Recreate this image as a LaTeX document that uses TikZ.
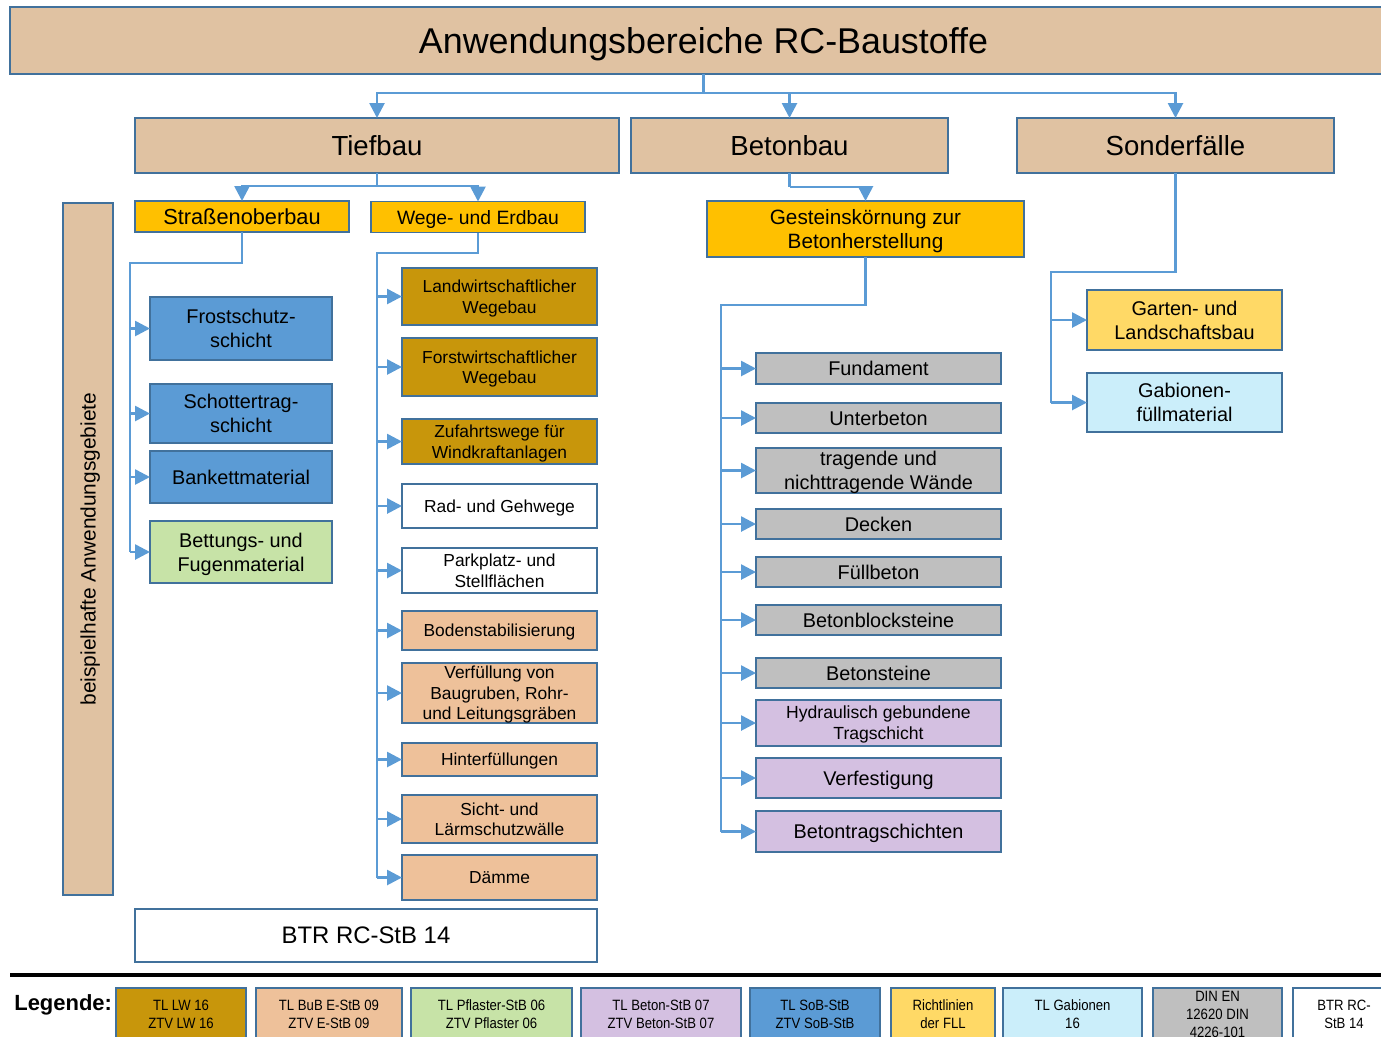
\documentclass[tikz,border=0pt]{standalone}
\usepackage{fontspec}
\setmainfont{Liberation Sans}
\newfontfamily\narrowfont[FakeStretch=0.88]{Liberation Sans}
\usetikzlibrary{arrows.meta, positioning}
\definecolor{TanBox}{HTML}{E0C2A2}
\definecolor{EdgeBlue}{HTML}{41719C}
\definecolor{LinkBlue}{HTML}{5B9BD5}
\definecolor{MainYellow}{HTML}{FFC000}
\definecolor{LwGold}{HTML}{C8960B}
\definecolor{SobBlue}{HTML}{5B9BD5}
\definecolor{PflGreen}{HTML}{C7E3A7}
\definecolor{EstbPeach}{HTML}{EEC19A}
\definecolor{DinGray}{HTML}{BFBFBF}
\definecolor{BetLilac}{HTML}{D4C0E1}
\definecolor{FllYellow}{HTML}{FFD966}
\definecolor{GabCyan}{HTML}{CBEEFA}

\begin{document}
\begin{tikzpicture}[x=0.02cm, y=-0.02cm,
  box/.style={draw=EdgeBlue, line width=1.1pt, inner ysep=0pt, inner xsep=2pt, outer sep=0pt, text depth=0pt, align=center},
  link/.style={draw=LinkBlue, line width=1.5pt},
  arr/.style={link, -{Triangle[length=8.5pt, width=8.5pt]}},
  ftitle/.style={font=\fontsize{20.4}{24}\selectfont},
  fmain/.style={font=\fontsize{15.7}{18}\selectfont},
  fitem/.style={font=\fontsize{11.3}{13.6}\selectfont},
  fsmall/.style={font=\fontsize{9.9}{11.7}\selectfont},
  flegend/.style={font=\narrowfont\fontsize{8.5}{10.2}\selectfont}]
  \useasboundingbox (0,0) rectangle (1381,1036);
  \clip (0,0) rectangle (1381,1036);

  % Title and main areas
  \node[box, ftitle, fill=TanBox, minimum width=1387*0.02cm, minimum height=67*0.02cm] (title) at (703.5,40.5) {Anwendungsbereiche RC-Baustoffe};
  \node[box, fmain, fill=TanBox, minimum width=484*0.02cm, minimum height=55*0.02cm] (tief) at (377,145.5) {Tiefbau};
  \node[box, fmain, fill=TanBox, minimum width=317*0.02cm, minimum height=55*0.02cm] (beton) at (789.5,145.5) {Betonbau};
  \node[box, fmain, fill=TanBox, minimum width=317*0.02cm, minimum height=55*0.02cm] (sonder) at (1175.5,145.5) {Sonderfälle};
  \draw[link] (title.south) -- ++(0,19) coordinate (tj);
  \draw[arr] (tj) -| (tief.north);
  \draw[arr] (tj) -| (beton.north);
  \draw[arr] (tj) -| (sonder.north);

  % Second level
  \node[box, fill=MainYellow, minimum width=214*0.02cm, minimum height=31*0.02cm, font=\fontsize{12.4}{14.5}\selectfont] (strasse) at (242,216.5) {Straßenoberbau};
  \node[box, fill=MainYellow, minimum width=214*0.02cm, minimum height=31*0.02cm, font=\fontsize{11}{13}\selectfont] (wege) at (478,217) {Wege- und Erdbau};
  \node[box, fill=MainYellow, minimum width=317*0.02cm, minimum height=56*0.02cm, font=\fontsize{11.8}{14.2}\selectfont] (gestein) at (865.5,229) {Gesteinskörnung zur\\Betonherstellung};
  \draw[link] (tief.south) -- ++(0,13) coordinate (tj2);
  \draw[arr] (tj2) -| (strasse.north);
  \draw[arr] (tj2) -| (wege.north);
  \draw[link] (beton.south) -- ++(0,14) coordinate (bj);
  \draw[arr] (bj) -| (gestein.north);

  % Side label
  \node[box, fill=TanBox, rotate=90, minimum width=692*0.02cm, minimum height=50*0.02cm, font=\fontsize{11.9}{14}\selectfont] (side) at (88,549) {beispielhafte Anwendungsgebiete};

  % Strassenoberbau
  \coordinate (sp1) at (130,263);
  \foreach \nm/\ya/\yb/\col/\txt in {frost/297/360/SobBlue/{Frostschutz-\\schicht},
      schotter/384/443/SobBlue/{Schottertrag-\\schicht},
      bankett/451/503/SobBlue/{Bankettmaterial},
      bettung/521/583/PflGreen/{Bettungs- und\\Fugenmaterial}} {
    \node[box, fitem, fill=\col, minimum width=182*0.02cm, minimum height={(\yb-\ya)*0.02cm}] (\nm) at (241,{(\ya+\yb)/2}) {\txt};
    \draw[arr] (\nm.west -| sp1) -- (\nm.west);
  }
  \draw[link] (strasse.south) |- (sp1) -- (sp1 |- bettung.west);

  % Wege- und Erdbau
  \coordinate (sp2) at (377,253);
  \foreach \nm/\ya/\yb/\col/\txt in {landw/268/325/LwGold/{Landwirtschaftlicher\\Wegebau},
      forst/338/396/LwGold/{Forstwirtschaftlicher\\Wegebau},
      zufahrt/419/464/LwGold/{Zufahrtswege für\\Windkraftanlagen},
      rad/484/528/white/{Rad- und Gehwege},
      park/548/593/white/{Parkplatz- und\\Stellflächen},
      boden/611/650/EstbPeach/{Bodenstabilisierung},
      verf/663/723/EstbPeach/{Verfüllung von\\Baugruben, Rohr-\\und Leitungsgräben},
      hinter/743/776/EstbPeach/{Hinterfüllungen},
      sicht/795/843/EstbPeach/{Sicht- und\\Lärmschutzwälle},
      daemme/855/900/EstbPeach/{Dämme}} {
    \node[box, fsmall, fill=\col, minimum width=195*0.02cm, minimum height={(\yb-\ya)*0.02cm}] (\nm) at (499.5,{(\ya+\yb)/2}) {\txt};
    \draw[arr] (\nm.west -| sp2) -- (\nm.west);
  }
  \draw[link] (wege.south) |- (sp2) -- (sp2 |- daemme.west);

  % Betonherstellung
  \coordinate (sp3) at (721,305);
  \foreach \nm/\ya/\yb/\col/\txt in {fund/353/384/DinGray/{Fundament},
      unter/403/433/DinGray/{Unterbeton},
      waende/448/493/DinGray/{tragende und\\nichttragende Wände},
      decken/509/539/DinGray/{Decken},
      fuell/557/587/DinGray/{Füllbeton},
      block/605/635/DinGray/{Betonblocksteine},
      steine/658/688/DinGray/{Betonsteine},
      verfest/758/798/BetLilac/{Verfestigung},
      btrag/811/852/BetLilac/{Betontragschichten}} {
    \node[box, fitem, fill=\col, minimum width=245*0.02cm, minimum height={(\yb-\ya)*0.02cm}] (\nm) at (878.5,{(\ya+\yb)/2}) {\txt};
    \draw[arr] (\nm.west -| sp3) -- (\nm.west);
  }
  \node[box, font=\fontsize{10}{11.9}\selectfont, fill=BetLilac, minimum width=245*0.02cm, minimum height=46*0.02cm] (hydr) at (878.5,723) {Hydraulisch gebundene\\Tragschicht};
  \draw[arr] (hydr.west -| sp3) -- (hydr.west);
  \draw[link] (gestein.south) |- (sp3) -- (sp3 |- btrag.west);

  % Sonderfaelle
  \coordinate (sp4) at (1051,272);
  \foreach \nm/\ya/\yb/\col/\txt in {garten/290/350/FllYellow/{Garten- und\\Landschaftsbau},
      gabion/373/432/GabCyan/{Gabionen-\\füllmaterial}} {
    \node[box, fitem, fill=\col, minimum width=195*0.02cm, minimum height={(\yb-\ya)*0.02cm}] (\nm) at (1184.5,{(\ya+\yb)/2}) {\txt};
    \draw[arr] (\nm.west -| sp4) -- (\nm.west);
  }
  \draw[link] (sonder.south) |- (sp4) -- (sp4 |- gabion.west);

  % BTR
  \node[box, fill=white, minimum width=462*0.02cm, minimum height=53*0.02cm, font=\fontsize{13.6}{16}\selectfont] (btr) at (366,935.5) {BTR RC-StB 14};

  % Legend
  \draw[line width=2.8pt] (10,975) -- (1381,975);
  \node[anchor=west, inner sep=0pt, font=\bfseries\fontsize{12.5}{15}\selectfont] (leg) at (14,1005) {Legende:};
  \foreach \nm/\xa/\xb/\col/\txt in {lw/116/246/LwGold/{TL LW 16\\ZTV LW 16},
      estb/256/402/EstbPeach/{TL BuB E-StB 09\\ZTV E-StB 09},
      pfl/411/572/PflGreen/{TL Pflaster-StB 06\\ZTV Pflaster 06},
      bet/581/741/BetLilac/{TL Beton-StB 07\\ZTV Beton-StB 07},
      sob/750/880/SobBlue/{TL SoB-StB\\ZTV SoB-StB},
      fll/891/995/FllYellow/{Richtlinien\\der FLL},
      gab/1003/1142/GabCyan/{TL Gabionen\\16},
      din/1153/1282/DinGray/{DIN EN\\12620 DIN\\4226-101},
      btrleg/1293/1395/white/{BTR RC-\\StB 14}} {
    \node[box, flegend, fill=\col, minimum width={(\xb-\xa)*0.02cm}, minimum height=52*0.02cm] (\nm) at ({(\xa+\xb)/2},1014) {\txt};
  }
\end{tikzpicture}
\end{document}
